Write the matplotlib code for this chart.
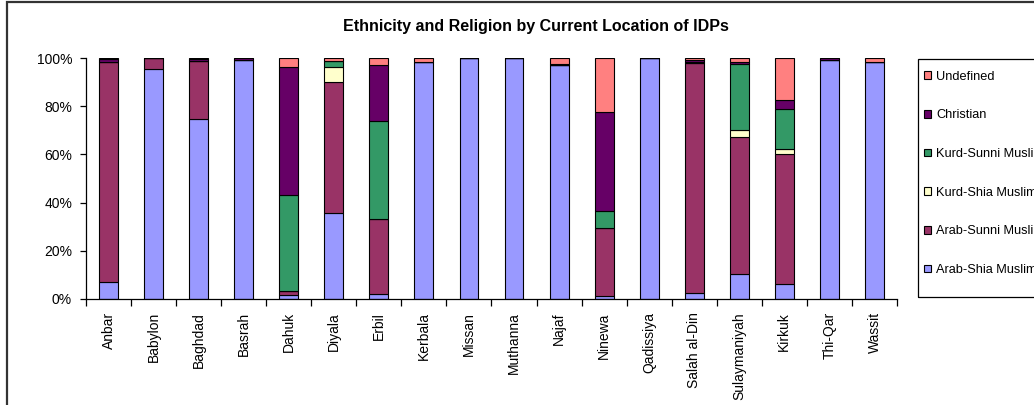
import matplotlib
matplotlib.use("Agg")
import matplotlib.pyplot as plt
from matplotlib.patches import Patch, Rectangle
from matplotlib.ticker import FuncFormatter, FixedLocator

plt.rcParams['font.family'] = ['Liberation Sans', 'DejaVu Sans']

locations = ["Anbar", "Babylon", "Baghdad", "Basrah", "Dahuk", "Diyala", "Erbil",
             "Kerbala", "Missan", "Muthanna", "Najaf", "Ninewa", "Qadissiya",
             "Salah al-Din", "Sulaymaniyah", "Kirkuk", "Thi-Qar", "Wassit"]

# shares in percent, stacked from the bottom up
arab_shia = [7.0, 95.5, 74.7, 99.3, 1.5, 35.6, 1.9, 98.3, 100, 100, 97.2, 1.2, 100, 2.6, 10.4, 6.2, 99.2, 98.3]
arab_sunni = [91.5, 4.4, 24.0, 0, 2.0, 54.4, 31.1, 0, 0, 0, 0, 28.2, 0, 95.4, 56.7, 53.8, 0, 0]
kurd_shia = [0, 0, 0, 0, 0, 6.2, 0, 0, 0, 0, 0, 0, 0, 0, 3.0, 2.1, 0, 0]
kurd_sunni = [0, 0, 0, 0, 39.5, 2.4, 40.7, 0, 0, 0, 0, 7.2, 0, 0.3, 27.3, 16.6, 0, 0]
christian = [1.0, 0, 0.8, 0.7, 53.4, 0.2, 23.4, 0, 0, 0, 0.3, 40.8, 0, 0.7, 0.8, 3.9, 0.8, 0]
undefined = [0.5, 0.1, 0.5, 0, 3.5, 1.2, 2.8, 1.7, 0, 0, 2.5, 22.4, 0, 1.0, 1.7, 17.3, 0, 1.7]

series = [
    ("Arab-Shia Muslim", arab_shia, "#9999FF"),
    ("Arab-Sunni Muslim", arab_sunni, "#993366"),
    ("Kurd-Shia Muslim", kurd_shia, "#FFFFCC"),
    ("Kurd-Sunni Muslim", kurd_sunni, "#339966"),
    ("Christian", christian, "#660066"),
    ("Undefined", undefined, "#FF8080"),
]

W, H = 1034, 405
fig = plt.figure(figsize=(W / 100, H / 100), dpi=100)
fig.patch.set_facecolor("white")

# outer chart border (continues past the right and bottom edges)
fig.add_artist(Rectangle((7 / W, -0.2), 1.3, 1.2 - 1.5 / H,
                         transform=fig.transFigure, fill=False,
                         edgecolor="#333333", linewidth=1.6, zorder=0))

ax = fig.add_axes([86 / W, (H - 299) / H, (897 - 86) / W, (299 - 58) / H])

x = list(range(len(locations)))
bottom = [0.0] * len(locations)
for name, vals, color in series:
    ax.bar(x, vals, width=0.42, bottom=bottom, color=color,
           edgecolor="black", linewidth=0.8, label=name)
    bottom = [b + v for b, v in zip(bottom, vals)]

ax.set_xlim(-0.5, len(locations) - 0.5)
ax.set_ylim(0, 100)
ax.set_yticks([0, 20, 40, 60, 80, 100])
ax.yaxis.set_major_formatter(FuncFormatter(lambda v, p: f"{v:.0f}%"))
ax.tick_params(axis="y", direction="out", length=4, width=0.9, labelsize=10, pad=6)

ax.set_xticks(x)
ax.set_xticklabels(locations, rotation=90, fontsize=10)
ax.xaxis.set_minor_locator(FixedLocator([i - 0.5 for i in range(len(locations) + 1)]))
ax.tick_params(axis="x", which="major", length=0, pad=9.5)
ax.tick_params(axis="x", which="minor", direction="out", length=5, width=0.9)

for s in ("top", "right"):
    ax.spines[s].set_visible(False)
for s in ("left", "bottom"):
    ax.spines[s].set_linewidth(0.9)

fig.text(536 / W, 1 - 27 / H, "Ethnicity and Religion by Current Location of IDPs",
         ha="center", va="center", fontsize=11.5, fontweight="bold")

# legend box, running off the right edge
fig.add_artist(Rectangle((918 / W, 1 - 297 / H), 0.2, (297 - 59) / H,
                         transform=fig.transFigure, fill=False,
                         edgecolor="black", linewidth=0.9, zorder=1))

handles = [Patch(facecolor=c, edgecolor="black", linewidth=0.8) for _, _, c in series][::-1]
labels = [n for n, _, _ in series][::-1]
fig.legend(handles, labels, loc="upper left",
           bbox_to_anchor=(924 / W, 1 - 70.5 / H), bbox_transform=fig.transFigure,
           fontsize=9.2, frameon=False, borderpad=0, labelspacing=2.09,
           handlelength=0.55, handleheight=0.55, handletextpad=0.4, borderaxespad=0)

fig.savefig("out.png", dpi=100)
